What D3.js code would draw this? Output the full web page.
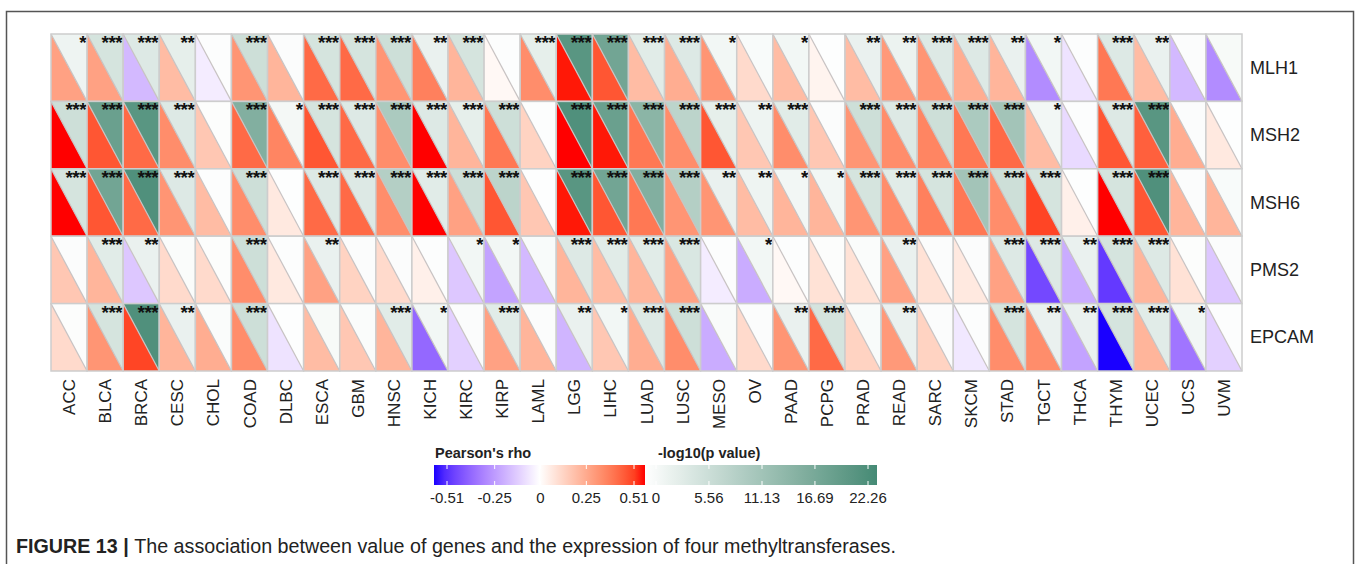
<!DOCTYPE html>
<html>
<head>
<meta charset="utf-8">
<script src="https://cdn.jsdelivr.net/npm/d3@7"></script>
<style>
  body { margin: 0; background: #fff; }
  text { font-family: "Liberation Sans", Arial, sans-serif; }
</style>
</head>
<body>
<div id="chart"></div>
<script>

var cancers = ["ACC","BLCA","BRCA","CESC","CHOL","COAD","DLBC","ESCA","GBM","HNSC","KICH","KIRC","KIRP","LAML","LGG","LIHC","LUAD","LUSC","MESO","OV","PAAD","PCPG","PRAD","READ","SARC","SKCM","STAD","TGCT","THCA","THYM","UCEC","UCS","UVM"];
var genes = ["MLH1","MSH2","MSH6","PMS2","EPCAM"];

// Pearson's rho, one array per gene (same order as cancers)
var rhoMLH1  = [0.25,0.25,-0.15,0.18,-0.04,0.28,0.20,0.38,0.38,0.28,0.33,0.20,0.02,0.30,0.50,0.42,0.18,0.22,0.28,0.10,0.18,0.03,0.18,0.27,0.28,0.22,0.20,-0.25,-0.06,0.35,0.18,-0.15,-0.25];
var rhoMSH2  = [0.51,0.42,0.38,0.30,0.15,0.38,0.32,0.42,0.38,0.30,0.51,0.20,0.35,0.12,0.51,0.50,0.35,0.30,0.42,0.15,0.30,0.15,0.28,0.30,0.32,0.35,0.38,0.18,-0.08,0.42,0.40,0.22,0.06];
var rhoMSH6  = [0.51,0.42,0.38,0.28,0.18,0.30,0.06,0.38,0.38,0.30,0.51,0.25,0.42,0.15,0.50,0.42,0.35,0.28,0.28,0.18,0.20,0.20,0.28,0.30,0.33,0.35,0.30,0.45,0.04,0.51,0.42,0.20,0.20];
var rhoPMS2  = [0.15,0.20,-0.12,0.10,0.10,0.30,0.06,0.25,0.12,0.10,0.04,-0.12,-0.20,-0.15,0.20,0.18,0.20,0.25,-0.04,-0.18,0.02,0.08,0.08,0.25,0.08,0.06,0.25,-0.40,-0.18,-0.43,0.20,0.08,-0.12];
var rhoEPCAM = [0.10,0.28,0.45,0.20,0.22,0.30,-0.06,0.18,0.15,0.20,-0.33,-0.10,0.25,0.20,-0.16,0.15,0.22,0.30,-0.18,0.10,0.28,0.38,0.12,0.27,0.12,-0.05,0.30,0.30,-0.20,-0.51,0.20,-0.30,-0.10];

// -log10(p value)
var lpMLH1  = [2.0,5.0,4.0,3.0,0.3,6.0,0.5,5.0,5.0,6.0,2.5,5.0,0.3,3.0,20.0,17.0,3.5,4.0,1.5,0.8,1.5,0.2,2.5,2.3,4.0,4.0,2.5,1.5,0.3,4.0,2.5,0.5,1.0];
var lpMSH2  = [6.0,18.0,20.0,4.0,0.4,15.0,1.3,5.0,4.0,10.0,4.0,3.0,6.0,0.3,21.0,18.0,14.0,8.0,3.0,2.0,3.5,0.5,6.0,4.0,6.0,10.0,11.0,1.5,0.3,4.0,20.0,0.5,0.2];
var lpMSH6  = [5.0,17.0,21.0,4.0,0.3,6.0,0.2,4.0,4.0,9.0,3.5,6.0,8.0,0.2,20.0,17.0,15.0,9.0,2.5,2.0,1.5,1.5,5.0,3.5,5.0,11.0,6.0,5.0,0.2,5.0,21.0,0.5,0.8];
var lpPMS2  = [0.5,3.5,2.5,0.6,0.4,6.0,0.3,2.5,0.5,0.5,0.3,1.5,1.5,0.8,4.0,3.5,3.5,4.5,0.3,1.5,0.3,0.4,0.6,2.5,0.5,0.5,4.0,4.0,2.5,5.0,4.0,0.4,0.5];
var lpEPCAM = [0.4,5.0,21.0,2.5,0.6,6.0,0.2,1.0,0.6,3.5,1.5,0.5,3.5,0.5,2.5,1.5,4.0,6.0,0.7,0.5,2.5,5.0,0.8,2.5,0.5,0.3,5.0,2.5,2.5,5.0,3.5,1.5,0.3];

// significance stars
var starMLH1  = [1,3,3,2,0,3,0,3,3,3,2,3,0,3,3,3,3,3,1,0,1,0,2,2,3,3,2,1,0,3,2,0,0];
var starMSH2  = [3,3,3,3,0,3,1,3,3,3,3,3,3,0,3,3,3,3,3,2,3,0,3,3,3,3,3,1,0,3,3,0,0];
var starMSH6  = [3,3,3,3,0,3,0,3,3,3,3,3,3,0,3,3,3,3,2,2,1,1,3,3,3,3,3,3,0,3,3,0,0];
var starPMS2  = [0,3,2,0,0,3,0,2,0,0,0,1,1,0,3,3,3,3,0,1,0,0,0,2,0,0,3,3,2,3,3,0,0];
var starEPCAM = [0,3,3,2,0,3,0,0,0,3,1,0,3,0,2,1,3,3,0,0,2,3,0,2,0,0,3,2,2,3,3,1,0];

var rhoTicks = [-0.51,-0.25,0,0.25,0.51];
var lpTicks = [0,5.56,11.13,16.69,22.26];

var rhoRows = [rhoMLH1, rhoMSH2, rhoMSH6, rhoPMS2, rhoEPCAM];
var lpRows = [lpMLH1, lpMSH2, lpMSH6, lpPMS2, lpEPCAM];
var starRows = [starMLH1, starMSH2, starMSH6, starPMS2, starEPCAM];

var width = 1355,
    height = 564,
    gridLeft = 51, gridRight = 1242,
    gridTop = 34, gridBottom = 371;

var svg = d3.select("#chart").append("svg")
    .attr("width", width)
    .attr("height", height);

// outer frame
svg.append("rect")
    .attr("x", 6.5).attr("y", 11.5)
    .attr("width", 1347).attr("height", 600)
    .attr("fill", "none")
    .attr("stroke", "#555")
    .attr("stroke-width", 1.5);

var x = d3.scaleBand().domain(cancers).range([gridLeft, gridRight]);
var y = d3.scaleBand().domain(genes).range([gridTop, gridBottom]);

var rhoColor = d3.scaleLinear()
    .domain([-0.51, 0, 0.51])
    .range(["#1a00ff", "#ffffff", "#ff0000"])
    .interpolate(d3.interpolateLab)
    .clamp(true);

var lpColor = d3.scaleLinear()
    .domain([0, 22.26])
    .range(["#ffffff", "#458a75"])
    .interpolate(d3.interpolateLab)
    .clamp(true);

var cells = [];
genes.forEach(function(g, gi) {
    cancers.forEach(function(c, ci) {
        cells.push({ gene: g, cancer: c, rho: rhoRows[gi][ci], lp: lpRows[gi][ci], stars: starRows[gi][ci] });
    });
});

var cw = x.bandwidth(), ch = y.bandwidth();

var cell = svg.append("g").selectAll("g")
    .data(cells)
    .enter().append("g")
    .attr("transform", function(d) { return "translate(" + x(d.cancer) + "," + y(d.gene) + ")"; });

// lower-left: rho
cell.append("path")
    .attr("d", "M0,0L" + cw + "," + ch + "L0," + ch + "Z")
    .attr("fill", function(d) { return rhoColor(d.rho); });

// upper-right: -log10 p
cell.append("path")
    .attr("d", "M0,0L" + cw + ",0L" + cw + "," + ch + "Z")
    .attr("fill", function(d) { return lpColor(d.lp); });

cell.append("line")
    .attr("x1", 0).attr("y1", 0).attr("x2", cw).attr("y2", ch)
    .attr("stroke", "#c8c3c3").attr("stroke-width", 1.2);

cell.append("rect")
    .attr("width", cw).attr("height", ch)
    .attr("fill", "none")
    .attr("stroke", "#cdcdcd").attr("stroke-width", 1.5);

cell.append("text")
    .attr("x", cw - 1)
    .attr("y", 15)
    .attr("text-anchor", "end")
    .style("font-size", "19px")
    .style("font-weight", "bold")
    .style("letter-spacing", "-0.5px")
    .attr("fill", "#111")
    .text(function(d) { return "*".repeat(d.stars); });

// row labels
svg.append("g").selectAll("text")
    .data(genes)
    .enter().append("text")
    .attr("x", gridRight + 8)
    .attr("y", function(d) { return y(d) + ch / 2 + 6; })
    .style("font-size", "18px")
    .attr("fill", "#222")
    .text(function(d) { return d; });

// column labels
svg.append("g").selectAll("text")
    .data(cancers)
    .enter().append("text")
    .attr("transform", function(d) { return "translate(" + (x(d) + cw / 2 + 6) + "," + (gridBottom + 8) + ") rotate(-90)"; })
    .attr("text-anchor", "end")
    .style("font-size", "17px")
    .attr("fill", "#222")
    .text(function(d) { return d; });

// legends
var defs = svg.append("defs");

var drawLegend = function(id, scale, domain, x0, x1, lx0, lx1, ticks, title, titleX, fmt) {
    var grad = defs.append("linearGradient").attr("id", id);
    d3.range(0, 1.0001, 0.05).forEach(function(t) {
        grad.append("stop")
            .attr("offset", (t * 100) + "%")
            .attr("stop-color", scale(domain[0] + t * (domain[1] - domain[0])));
    });
    svg.append("rect")
        .attr("x", x0).attr("y", 465)
        .attr("width", x1 - x0).attr("height", 20)
        .attr("fill", "url(#" + id + ")");
    var lx = d3.scaleLinear().domain(domain).range([lx0, lx1]);
    var tg = svg.append("g").selectAll("g")
        .data(ticks)
        .enter().append("g");
    tg.append("line")
        .attr("x1", function(d) { return lx(d); }).attr("x2", function(d) { return lx(d); })
        .attr("y1", 465).attr("y2", 469)
        .attr("stroke", "#fff").attr("stroke-width", 1);
    tg.append("line")
        .attr("x1", function(d) { return lx(d); }).attr("x2", function(d) { return lx(d); })
        .attr("y1", 481).attr("y2", 485)
        .attr("stroke", "#fff").attr("stroke-width", 1);
    tg.append("text")
        .attr("x", function(d) { return lx(d); })
        .attr("y", 503)
        .attr("text-anchor", "middle")
        .style("font-size", "15px")
        .attr("fill", "#222")
        .text(fmt);
    svg.append("text")
        .attr("x", titleX).attr("y", 458)
        .style("font-size", "14.5px")
        .style("font-weight", "bold")
        .attr("fill", "#222")
        .text(title);
};

drawLegend("rhoGrad", rhoColor, [-0.51, 0.51], 434, 645, 447, 634, rhoTicks, "Pearson's rho", 435,
    function(d) { return d === 0 ? "0" : String(d); });
drawLegend("lpGrad", lpColor, [0, 22.26], 645, 877, 656, 868, lpTicks, "-log10(p value)", 658,
    function(d) { return d === 0 ? "0" : d.toFixed(2); });

// caption
var cap = svg.append("text")
    .attr("x", 16).attr("y", 553)
    .style("font-size", "19.7px")
    .attr("fill", "#222");
cap.append("tspan").style("font-weight", "bold").text("FIGURE 13 | ");
cap.append("tspan").text("The association between value of genes and the expression of four methyltransferases.");

</script>
</body>
</html>
